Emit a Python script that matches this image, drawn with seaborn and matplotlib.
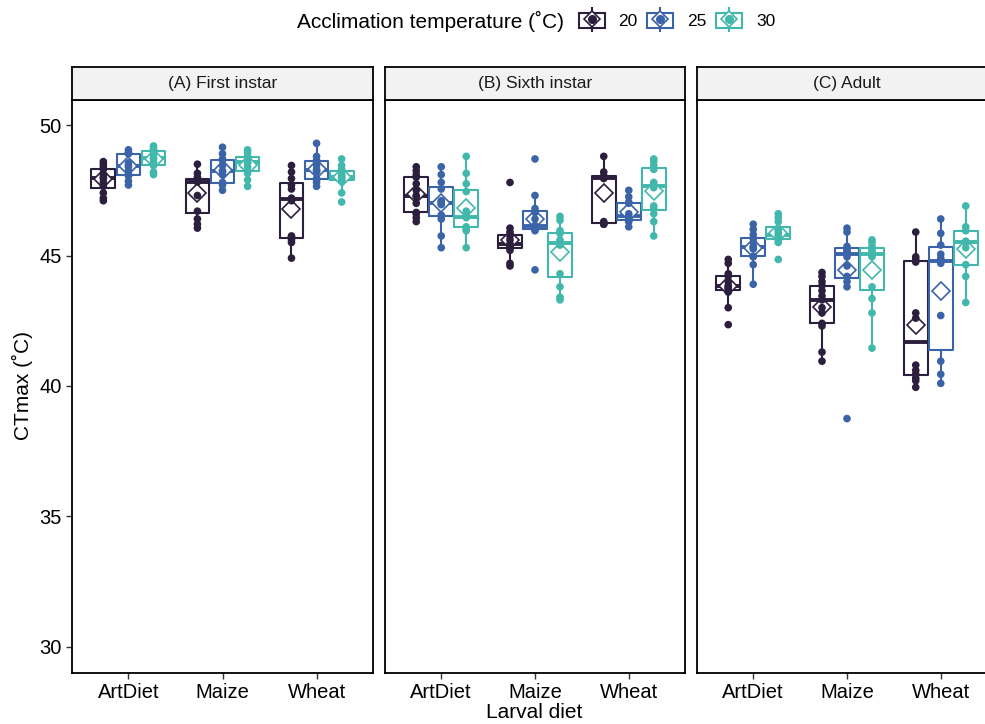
import pandas as pd
import seaborn as sns
import matplotlib.pyplot as plt
from matplotlib.lines import Line2D
from matplotlib.patches import Patch
from matplotlib.legend_handler import HandlerTuple

stages = ["(A) First instar", "(B) Sixth instar", "(C) Adult"]
diets = ["ArtDiet", "Maize", "Wheat"]
temps = ["20", "25", "30"]
colors = ["#2C1E3D", "#3B64A8", "#42B8AC"]

# CTmax readings per stage and acclimation temperature
first_20 = {
    "ArtDiet": [47.1, 47.2, 47.4, 47.65, 47.8, 47.95, 48.0, 48.1, 48.3, 48.4, 48.5, 48.6],
    "Maize": [46.05, 46.2, 46.4, 46.7, 47.3, 47.82, 47.85, 47.87, 47.9, 48.0, 48.15, 48.5],
    "Wheat": [44.9, 45.5, 45.6, 45.7, 45.75, 47.1, 47.2, 47.55, 47.7, 47.95, 48.2, 48.45],
}
first_25 = {
    "ArtDiet": [47.7, 47.85, 48.05, 48.1, 48.25, 48.4, 48.45, 48.55, 48.9, 48.92, 48.95, 49.05],
    "Maize": [47.5, 47.7, 47.78, 47.8, 48.1, 48.2, 48.25, 48.45, 48.65, 48.7, 48.9, 49.15],
    "Wheat": [47.65, 47.8, 47.9, 47.95, 48.2, 48.25, 48.3, 48.45, 48.6, 48.65, 48.8, 49.3],
}
first_30 = {
    "ArtDiet": [48.1, 48.2, 48.45, 48.5, 48.6, 48.7, 48.75, 48.85, 49.0, 49.05, 49.1, 49.2],
    "Maize": [47.65, 47.9, 48.15, 48.25, 48.4, 48.55, 48.58, 48.65, 48.75, 48.8, 48.95, 49.05],
    "Wheat": [47.05, 47.4, 47.85, 47.9, 47.95, 48.0, 48.05, 48.1, 48.2, 48.3, 48.45, 48.7],
}
sixth_20 = {
    "ArtDiet": [46.3, 46.45, 46.6, 46.65, 47.0, 47.25, 47.3, 47.5, 47.75, 48.0, 48.1, 48.25, 48.4],
    "Maize": [44.6, 44.7, 45.2, 45.3, 45.35, 45.4, 45.45, 45.6, 45.75, 45.9, 46.05, 47.8],
    "Wheat": [46.2, 46.2, 46.25, 46.3, 47.95, 48.0, 48.0, 48.05, 48.2, 48.8],
}
sixth_25 = {
    "ArtDiet": [45.3, 45.75, 46.4, 46.55, 46.95, 47.0, 47.05, 47.1, 47.55, 47.8, 48.1, 48.4],
    "Maize": [44.45, 45.95, 46.0, 46.05, 46.1, 46.15, 46.4, 46.65, 46.8, 47.3, 48.7],
    "Wheat": [46.1, 46.3, 46.35, 46.4, 46.45, 46.5, 46.6, 47.0, 47.05, 47.25, 47.5],
}
sixth_30 = {
    "ArtDiet": [45.3, 45.95, 46.0, 46.1, 46.45, 46.48, 46.5, 46.7, 47.45, 47.75, 48.15, 48.8],
    "Maize": [43.3, 43.4, 43.8, 44.3, 45.4, 45.45, 45.5, 45.6, 45.85, 45.95, 46.35, 46.5],
    "Wheat": [45.75, 46.3, 46.6, 46.8, 46.9, 47.6, 47.7, 47.8, 48.3, 48.45, 48.6, 48.7],
}
adult_20 = {
    "ArtDiet": [42.35, 43.0, 43.6, 43.7, 43.75, 43.8, 43.85, 44.0, 44.2, 44.3, 44.7, 44.85],
    "Maize": [40.95, 41.3, 42.3, 42.4, 42.8, 43.0, 43.3, 43.45, 43.65, 43.85, 44.0, 44.2, 44.35],
    "Wheat": [39.95, 40.2, 40.3, 40.45, 40.6, 40.8, 42.6, 42.8, 44.75, 44.85, 44.95, 45.9],
}
adult_25 = {
    "ArtDiet": [43.9, 44.65, 44.95, 44.97, 45.25, 45.3, 45.35, 45.5, 45.65, 45.8, 46.0, 46.2],
    "Maize": [38.75, 43.8, 44.0, 44.2, 44.6, 44.95, 45.15, 45.2, 45.25, 45.35, 45.9, 46.05],
    "Wheat": [40.1, 40.45, 40.95, 42.7, 44.7, 44.9, 45.05, 45.4, 45.85, 46.4],
}
adult_30 = {
    "ArtDiet": [44.85, 45.5, 45.6, 45.65, 45.7, 45.75, 45.85, 45.95, 46.0, 46.3, 46.45, 46.6],
    "Maize": [41.45, 42.8, 43.35, 43.8, 44.95, 45.0, 45.1, 45.2, 45.25, 45.35, 45.5, 45.6],
    "Wheat": [43.2, 44.2, 44.65, 45.3, 45.5, 45.55, 45.95, 46.1, 46.9],
}

groups = {
    stages[0]: [first_20, first_25, first_30],
    stages[1]: [sixth_20, sixth_25, sixth_30],
    stages[2]: [adult_20, adult_25, adult_30],
}
rows = []
for stage in stages:
    for temp, g in zip(temps, groups[stage]):
        for diet in diets:
            for v in g[diet]:
                rows.append((stage, diet, temp, v))
df = pd.DataFrame(rows, columns=["stage", "diet", "temp", "ctmax"])

sns.set_style("ticks")
plt.rcParams["font.family"] = ["Liberation Sans", "DejaVu Sans"]
plt.rcParams["text.color"] = "black"

W, H = 985, 724
fig = plt.figure(figsize=(W / 100, H / 100), dpi=100)
lefts = [72, 385, 697]
widths = [301, 300, 300]

for i, stage in enumerate(stages):
    ax = fig.add_axes([lefts[i] / W, (H - 673) / H, widths[i] / W, 573 / H])
    sub = df[df["stage"] == stage]

    sns.boxplot(data=sub, x="diet", y="ctmax", hue="temp", order=diets, hue_order=temps,
                palette=colors, fill=False, width=0.8, gap=0.05, showfliers=False,
                linewidth=1.5, medianprops=dict(linewidth=2.8), capprops=dict(linewidth=0),
                legend=False, ax=ax)

    # mean diamonds, white filled
    n0 = len(ax.lines)
    sns.pointplot(data=sub, x="diet", y="ctmax", hue="temp", order=diets, hue_order=temps,
                  palette=colors, estimator="mean", errorbar=None, dodge=2 * 0.8 / 3,
                  markers="D", linestyles="none", markersize=9, markeredgewidth=1.2,
                  legend=False, ax=ax)
    for ln in ax.lines[n0:]:
        ln.set_markerfacecolor("white")
        ln.set_zorder(3)

    sns.stripplot(data=sub, x="diet", y="ctmax", hue="temp", order=diets, hue_order=temps,
                  palette=colors, dodge=True, jitter=False, size=5.5, linewidth=0,
                  legend=False, ax=ax, zorder=4)

    ax.set_xlim(-0.6, 2.6)
    ax.set_ylim(29.0, 50.96)
    ax.set_yticks([30, 35, 40, 45, 50])
    ax.set_xlabel("")
    ax.set_ylabel("")
    ax.tick_params(length=4, width=1, color="#333333", labelsize=14.5, labelcolor="black")
    if i > 0:
        ax.tick_params(axis="y", left=False, labelleft=False)
    for s in ax.spines.values():
        s.set_visible(True)
        s.set_color("black")
        s.set_linewidth(1.3)

    # facet strip
    sax = fig.add_axes([lefts[i] / W, (H - 100) / H, widths[i] / W, 33 / H])
    sax.set_facecolor("#F2F2F2")
    sax.set_xticks([])
    sax.set_yticks([])
    for s in sax.spines.values():
        s.set_color("black")
        s.set_linewidth(1.3)
    sax.text(0.5, 0.5, stage, ha="center", va="center", fontsize=12.5, color="#1a1a1a",
             transform=sax.transAxes)

fig.text(534 / W, 1 - 713 / H, "Larval diet", ha="center", va="center", fontsize=15)
fig.text(22 / W, 1 - 386 / H, "CTmax (˚C)", ha="center", va="center", rotation=90, fontsize=15)

# legend
fig.text(564 / W, 1 - 21 / H, "Acclimation temperature (˚C)", ha="right", va="center", fontsize=15)
handles = []
for c in colors:
    handles.append((
        Patch(facecolor="white", edgecolor=c, linewidth=1.5),
        Line2D([], [], color=c, marker="|", markersize=18, markeredgewidth=1.5, linestyle="none"),
        Line2D([], [], color=c, marker="D", markersize=8, markerfacecolor="white",
               markeredgewidth=1.2, linestyle="none"),
        Line2D([], [], color=c, marker="o", markersize=5.5, linestyle="none"),
    ))
fig.legend(handles, temps, handler_map={tuple: HandlerTuple(ndivide=1)},
           loc="center left", bbox_to_anchor=(563 / W, 1 - 21 / H), ncol=3, frameon=False,
           fontsize=12.5, handlelength=1.5, handleheight=0.95, handletextpad=0.8,
           columnspacing=0.55)

fig.savefig("out.png", dpi=100)
